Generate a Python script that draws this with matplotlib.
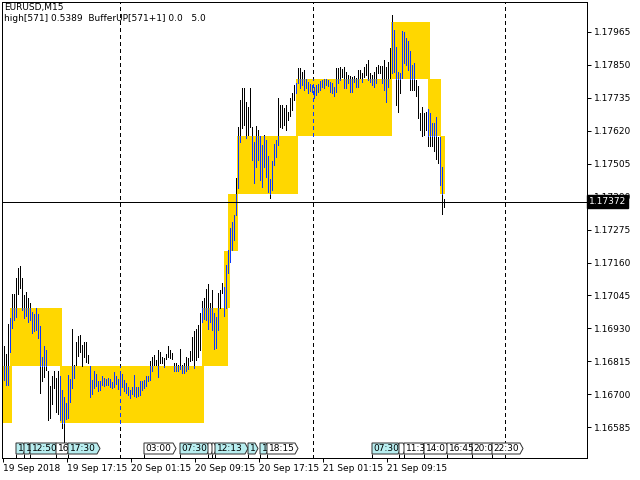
import numpy as np
import matplotlib.pyplot as plt
import matplotlib.transforms as mtransforms
from matplotlib.patches import Rectangle, Polygon

# bar highs / lows (M15 bars, left to right)
highs = [
    1.16869, 1.16841, 1.16946, 1.16966, 1.17050, 1.17050, 1.17106, 1.17141, 1.17148, 1.17106,
    1.17047, 1.17057, 1.17036, 1.17019, 1.16987, 1.16980, 1.17001, 1.16980, 1.16939, 1.16830,
    1.16869, 1.16855, 1.16782, 1.16729, 1.16764, 1.16782, 1.16757, 1.16782, 1.16764, 1.16715,
    1.16691, 1.16670, 1.16768, 1.16754, 1.16928, 1.16802, 1.16883, 1.16904, 1.16907, 1.16872,
    1.16883, 1.16883, 1.16837, 1.16799, 1.16750, 1.16782, 1.16771, 1.16747, 1.16747, 1.16764,
    1.16757, 1.16754, 1.16757, 1.16754, 1.16743, 1.16778, 1.16764, 1.16754, 1.16775, 1.16771,
    1.16750, 1.16740, 1.16726, 1.16715, 1.16726, 1.16768, 1.16726, 1.16726, 1.16747, 1.16747,
    1.16750, 1.16764, 1.16764, 1.16816, 1.16830, 1.16837, 1.16820, 1.16855, 1.16848, 1.16830,
    1.16827, 1.16841, 1.16869, 1.16855, 1.16844, 1.16809, 1.16809, 1.16802, 1.16858, 1.16802,
    1.16809, 1.16830, 1.16827, 1.16851, 1.16900, 1.16921, 1.16928, 1.16942, 1.16984, 1.17026,
    1.17036, 1.17068, 1.17085, 1.17019, 1.17064, 1.16984, 1.16970, 1.17054, 1.17064, 1.17089,
    1.17075, 1.17151, 1.17204, 1.17281, 1.17302, 1.17326, 1.17455, 1.17633, 1.17727, 1.17769,
    1.17769, 1.17720, 1.17703, 1.17769, 1.17633, 1.17581, 1.17637, 1.17623, 1.17602, 1.17570,
    1.17605, 1.17588, 1.17532, 1.17452, 1.17514, 1.17574, 1.17588, 1.17734, 1.17710, 1.17710,
    1.17699, 1.17710, 1.17685, 1.17734, 1.17752, 1.17780, 1.17787, 1.17839, 1.17839, 1.17825,
    1.17832, 1.17801, 1.17790, 1.17783, 1.17780, 1.17773, 1.17780, 1.17783, 1.17794, 1.17797,
    1.17801, 1.17801, 1.17797, 1.17790, 1.17787, 1.17773, 1.17839, 1.17839, 1.17842, 1.17835,
    1.17842, 1.17825, 1.17815, 1.17811, 1.17808, 1.17811, 1.17804, 1.17832, 1.17832, 1.17822,
    1.17842, 1.17853, 1.17867, 1.17822, 1.17815, 1.17825, 1.17842, 1.17849, 1.17846, 1.17846,
    1.17867, 1.17842, 1.17860, 1.17909, 1.18024, 1.17972, 1.17912, 1.17825, 1.17822, 1.17968,
    1.17965, 1.17944, 1.17933, 1.17898, 1.17849, 1.17856, 1.17797, 1.17776, 1.17682, 1.17703,
    1.17682, 1.17685, 1.17696, 1.17682, 1.17647, 1.17647, 1.17668, 1.17598, 1.17598, 1.17493,
    1.17382,
]
lows = [
    1.16750, 1.16733, 1.16733, 1.16848, 1.16932, 1.16960, 1.16970, 1.17050, 1.17071, 1.16994,
    1.16966, 1.16973, 1.16953, 1.16960, 1.16914, 1.16921, 1.16925, 1.16897, 1.16705, 1.16747,
    1.16761, 1.16785, 1.16610, 1.16617, 1.16666, 1.16722, 1.16638, 1.16631, 1.16610, 1.16583,
    1.16534, 1.16614, 1.16617, 1.16673, 1.16722, 1.16757, 1.16802, 1.16834, 1.16848, 1.16799,
    1.16830, 1.16813, 1.16809, 1.16691, 1.16701, 1.16722, 1.16729, 1.16712, 1.16715, 1.16733,
    1.16729, 1.16733, 1.16733, 1.16726, 1.16722, 1.16726, 1.16736, 1.16719, 1.16698, 1.16726,
    1.16712, 1.16705, 1.16698, 1.16687, 1.16701, 1.16694, 1.16691, 1.16694, 1.16698, 1.16715,
    1.16722, 1.16729, 1.16747, 1.16750, 1.16782, 1.16802, 1.16802, 1.16761, 1.16809, 1.16809,
    1.16795, 1.16823, 1.16830, 1.16827, 1.16823, 1.16782, 1.16782, 1.16782, 1.16788, 1.16775,
    1.16775, 1.16782, 1.16788, 1.16816, 1.16820, 1.16792, 1.16820, 1.16830, 1.16855, 1.16953,
    1.16963, 1.16960, 1.16928, 1.16953, 1.16925, 1.16858, 1.16862, 1.16925, 1.17001, 1.17054,
    1.16973, 1.17001, 1.17124, 1.17162, 1.17204, 1.17239, 1.17326, 1.17420, 1.17581, 1.17630,
    1.17640, 1.17595, 1.17605, 1.17633, 1.17518, 1.17438, 1.17493, 1.17518, 1.17448, 1.17424,
    1.17493, 1.17459, 1.17406, 1.17385, 1.17413, 1.17500, 1.17528, 1.17570, 1.17633, 1.17630,
    1.17640, 1.17623, 1.17657, 1.17671, 1.17692, 1.17727, 1.17752, 1.17787, 1.17769, 1.17780,
    1.17762, 1.17769, 1.17752, 1.17759, 1.17755, 1.17734, 1.17745, 1.17755, 1.17762, 1.17773,
    1.17769, 1.17780, 1.17776, 1.17755, 1.17752, 1.17741, 1.17755, 1.17787, 1.17797, 1.17808,
    1.17769, 1.17769, 1.17787, 1.17755, 1.17755, 1.17790, 1.17773, 1.17773, 1.17804, 1.17790,
    1.17808, 1.17815, 1.17797, 1.17790, 1.17780, 1.17773, 1.17787, 1.17822, 1.17822, 1.17787,
    1.17762, 1.17720, 1.17773, 1.17804, 1.17822, 1.17825, 1.17710, 1.17685, 1.17752, 1.17804,
    1.17856, 1.17849, 1.17832, 1.17762, 1.17762, 1.17762, 1.17741, 1.17664, 1.17623, 1.17602,
    1.17605, 1.17623, 1.17567, 1.17567, 1.17567, 1.17549, 1.17521, 1.17507, 1.17431, 1.17329,
    1.17354,
]

# yellow zones: bar span and price band
box_start = [-0.5, 3, 28, 99, 110, 112, 116.5, 146, 193.5, 212, 218]
box_end = [4, 29, 100, 112, 113, 117, 147, 194, 213, 218.5, 220.5]
box_low = [1.166, 1.168, 1.166, 1.168, 1.170, 1.172, 1.174, 1.176, 1.178, 1.176, 1.174]
box_high = [1.168, 1.170, 1.168, 1.170, 1.172, 1.174, 1.176, 1.178, 1.180, 1.178, 1.176]

price_ticks = [1.17965, 1.17850, 1.17735, 1.17620, 1.17505, 1.17390, 1.17275,
               1.17160, 1.17045, 1.16930, 1.16815, 1.16700, 1.16585]
date_ticks = [0, 32, 64, 96, 128, 160, 192]
date_labels = ['19 Sep 2018', '19 Sep 17:15', '20 Sep 01:15', '20 Sep 09:15',
               '20 Sep 17:15', '21 Sep 01:15', '21 Sep 09:15']
day_separators = [58, 154.5, 250.5]
last_price = 1.17372

# calendar events along the bottom
event_text = ['1', '1', '12:50', '16', '17:30', '03:00', '07:30', '', '', '12:13',
              '1', '1', '18:15', '07:30', '', '11:3', '14:0', '16:45', '20:0', '22:30']
event_start = [6, 10, 13, 26, 32, 70, 88, 102, 104, 105.5,
               122, 128, 131.5, 184, 197.5, 200, 210, 221.5, 234, 244]
event_end = [9.5, 12.5, 26, 31.5, 46.5, 84.5, 101.5, 103.5, 105, 120.5,
             125.5, 131, 145.5, 197, 199.5, 209.5, 221, 234, 244, 258]
event_past = [True, True, True, False, True, False, True, False, False, True,
              True, True, False, True, False, False, False, False, False, False]

YELLOW = '#ffd700'
BLUE = '#0a38ff'
CYAN = '#b8eef0'
FS = 6.5

fig = plt.figure(figsize=(6.4, 4.8), dpi=100)
ax = fig.add_axes([2 / 640, 22 / 480, 585 / 640, 456 / 480])
ax.set_xlim(-1, 291.5)
ax.set_ylim(1.1647785, 1.1806929)

px = 0.72  # one pixel in points

for s, e, lo, hi in zip(box_start, box_end, box_low, box_high):
    ax.add_patch(Rectangle((s, lo), e - s, hi - lo, facecolor=YELLOW,
                           edgecolor='none', zorder=1, antialiased=False))

# day separators (drawn blue where they cross a zone)
for xs in day_separators:
    ax.axvline(xs, color='black', lw=px, ls=(0, (4, 4)), zorder=1.5, antialiased=False)
    for s, e, lo, hi in zip(box_start, box_end, box_low, box_high):
        if s <= xs <= e:
            ax.vlines(xs, lo, hi, color=BLUE, lw=px, linestyles=(0, (4, 4)),
                      zorder=1.6, antialiased=False)

idx = np.arange(len(highs))
ax.vlines(idx, lows, highs, color='black', lw=px, zorder=2, antialiased=False)

# part of each bar inside a zone is coloured blue
bx, blo, bhi = [], [], []
for i, (h, l) in enumerate(zip(highs, lows)):
    for s, e, lo, hi in zip(box_start, box_end, box_low, box_high):
        if s <= i <= e:
            top, bot = min(h, hi), max(l, lo)
            if top > bot:
                bx.append(i)
                blo.append(bot)
                bhi.append(top)
ax.vlines(bx, blo, bhi, color=BLUE, lw=px, zorder=3, antialiased=False)

ax.axhline(last_price, color='black', lw=px, zorder=4, antialiased=False)

# axes styling
for sp in ax.spines.values():
    sp.set_linewidth(px)
ax.yaxis.tick_right()
ax.set_yticks(price_ticks)
ax.set_yticklabels([f'{v:.5f}' for v in price_ticks])
ax.tick_params(axis='y', direction='out', length=3, width=px, pad=2, labelsize=FS)
ax.set_xticks(np.array(date_ticks) - 0.5)
ax.set_xticklabels(date_labels)
ax.tick_params(axis='x', direction='out', length=3, width=px, pad=1, labelsize=FS)
for lab in ax.get_xticklabels():
    lab.set_horizontalalignment('left')

trans_y = mtransforms.blended_transform_factory(ax.transAxes, ax.transData)
ax.text(1.0 + 2 / 585, last_price, f'{last_price:.5f}', transform=trans_y,
        ha='left', va='center', color='white', fontsize=FS, zorder=10,
        bbox=dict(boxstyle='square,pad=0.2', fc='black', ec='black'), clip_on=False)

# event labels
trans_x = ax.get_xaxis_transform()
y0, y1 = 4 / 456, 15 / 456
ym = (y0 + y1) / 2
for txt, s, e, past in zip(event_text, event_start, event_end, event_past):
    ax.vlines(s, 0, y0, transform=trans_x, color='black', lw=px, zorder=5)
    poly = Polygon([(s, y0), (e, y0), (e + 1.5, ym), (e, y1), (s, y1)], closed=True,
                   transform=trans_x, facecolor=CYAN if past else 'white',
                   edgecolor='#333333', lw=px, zorder=5)
    ax.add_patch(poly)
    if txt:
        t = ax.text(s + 0.8, ym, txt, transform=trans_x, ha='left', va='center',
                    fontsize=FS, zorder=6)
        t.set_clip_path(poly)

fig.text(4 / 640, 1 - 3 / 480, 'EURUSD,M15', ha='left', va='top', fontsize=FS)
fig.text(4 / 640, 1 - 14 / 480, 'high[571] 0.5389  BufferUP[571+1] 0.0   5.0',
         ha='left', va='top', fontsize=FS)

fig.savefig('out.png', dpi=100)
